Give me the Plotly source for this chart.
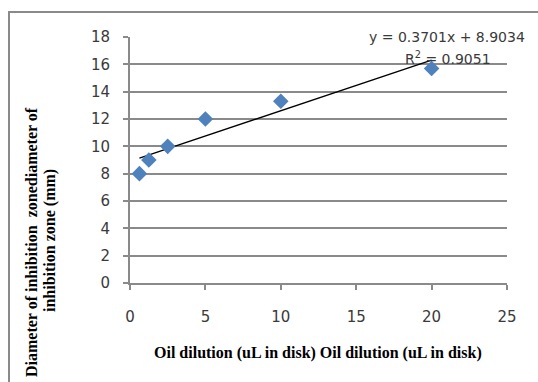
import plotly.graph_objects as go

# Data
oil_dilution = [0.625, 1.25, 2.5, 5, 10, 20]
inhibition_zone = [8, 9, 10, 12, 13.3, 15.7]
slope = 0.3701
intercept = 8.9034
r_squared = 0.9051
x_ticks = [0, 5, 10, 15, 20, 25]
y_ticks = [0, 2, 4, 6, 8, 10, 12, 14, 16, 18]

W, H = 538, 382
L, R, T, B = 130, 31, 37, 99
PW, PH = W - L - R, H - T - B


def px(x):
    return (x - L) / PW


def py(y):
    return (H - B - y) / PH


trend_x = [min(oil_dilution), max(oil_dilution)]
trend_y = [slope * v + intercept for v in trend_x]

fig = go.Figure()
fig.add_trace(go.Scatter(
    x=trend_x, y=trend_y, mode="lines",
    line=dict(color="black", width=1.3), showlegend=False, hoverinfo="skip"))
fig.add_trace(go.Scatter(
    x=oil_dilution, y=inhibition_zone, mode="markers",
    marker=dict(symbol="diamond", size=12, color="#4F81BD"),
    showlegend=False))

grid = "#8a8a8a"
tickfont = dict(family="DejaVu Sans", size=15, color="#3a3a3a")
titlefont = dict(family="Liberation Serif", size=16, color="black")
eqfont = dict(family="DejaVu Sans", size=14, color="#3a3a3a")

fig.update_xaxes(range=[0, 25], tickvals=x_ticks, showgrid=False,
                 showline=True, linecolor=grid, linewidth=2,
                 ticks="outside", ticklen=5, tickcolor=grid, tickwidth=2,
                 tickfont=tickfont, ticklabelstandoff=14, zeroline=False)
fig.update_yaxes(range=[0, 18], tickvals=y_ticks, showgrid=True,
                 gridcolor=grid, gridwidth=1.5,
                 showline=True, linecolor=grid, linewidth=2,
                 ticks="outside", ticklen=5, tickcolor=grid, tickwidth=2,
                 tickfont=tickfont, ticklabelstandoff=10, zeroline=False)

ann = [
    dict(text="<b>Diameter of inhibition  zonediameter of</b>", x=px(31), y=py(242),
         textangle=-90, font=titlefont),
    dict(text="<b>inhibition zone (mm)</b>", x=px(50), y=py(241),
         textangle=-90, font=titlefont),
    dict(text="<b>Oil dilution (uL in disk) Oil dilution (uL in disk)</b>",
         x=px(318), y=py(353), font=titlefont),
    dict(text=f"y = {slope}x + {intercept}", x=px(447), y=py(37), font=eqfont),
    dict(text=f"R<sup>2</sup> = {r_squared}", x=px(448), y=py(58), font=eqfont),
]
for a in ann:
    a.update(xref="paper", yref="paper", showarrow=False,
             xanchor="center", yanchor="middle")

fig.update_layout(
    width=W, height=H,
    margin=dict(l=L, r=R, t=T, b=B),
    paper_bgcolor="white", plot_bgcolor="white",
    annotations=ann,
    shapes=[dict(type="rect", xref="paper", yref="paper",
                 x0=px(9), x1=px(600), y0=py(420), y1=py(12),
                 line=dict(color="#8a8a8a", width=2), layer="below")],
)

fig.write_html("out.html")
